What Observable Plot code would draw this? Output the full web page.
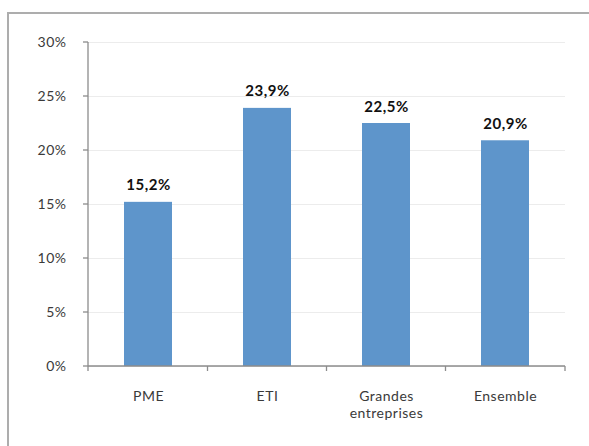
<!DOCTYPE html>
<html>
<head>
<meta charset="utf-8">
<script src="https://cdn.jsdelivr.net/npm/d3@7"></script>
<script src="https://cdn.jsdelivr.net/npm/@observablehq/plot@0.6"></script>
<style>
  html, body { margin: 0; padding: 0; background: #fff; }
  #wrap { position: relative; width: 589px; height: 446px; overflow: hidden; }
  #frame { position: absolute; left: 7px; top: 12px; width: 600px; height: 460px;
           border-top: 2px solid #adadad; border-left: 2px solid #adadad; box-sizing: border-box; }
  #chart { position: absolute; left: 0; top: 0; }
</style>
</head>
<body>
<div id="wrap"><div id="chart"></div><div id="frame"></div></div>
<script>
const categories = ["PME", "ETI", "Grandes\nentreprises", "Ensemble"];
const values = [15.2, 23.9, 22.5, 20.9];
const valueLabels = ["15,2%", "23,9%", "22,5%", "20,9%"];
const yTicks = [0, 5, 10, 15, 20, 25, 30];

const data = categories.map((c, i) => ({cat: c, value: values[i], label: valueLabels[i]}));
const font = "Lato, 'Open Sans', sans-serif";
const axisColor = "#8c8c8c";

function axesMark(index, scales, values, dims) {
  const x = scales.x, y = scales.y;
  const step = x.step(), bw = x.bandwidth();
  const gap = (step - bw) / 2;
  const left = dims.marginLeft, right = dims.width - dims.marginRight;
  const bottom = dims.height - dims.marginBottom;
  const bounds = [left];
  categories.forEach(c => bounds.push(x(c) + bw + gap));
  bounds[bounds.length - 1] = right;
  const g = d3.create("svg:g").attr("stroke", axisColor).attr("stroke-width", 1.3).attr("fill", "none");
  g.append("line").attr("x1", left).attr("x2", left).attr("y1", y(30)).attr("y2", bottom);
  g.append("line").attr("x1", left).attr("x2", right).attr("y1", bottom).attr("y2", bottom);
  bounds.forEach(b => g.append("line").attr("x1", b).attr("x2", b).attr("y1", bottom).attr("y2", bottom + 5));
  yTicks.forEach(t => g.append("line").attr("x1", left - 5).attr("x2", left).attr("y1", y(t)).attr("y2", y(t)));
  return g.node();
}

const chart = Plot.plot({
  width: 589,
  height: 446,
  marginLeft: 88,
  marginRight: 24,
  marginTop: 42,
  marginBottom: 80,
  style: {fontFamily: font, background: "transparent", letterSpacing: "0.5px"},
  x: {domain: categories, paddingInner: 0.6, paddingOuter: 0.3, axis: null},
  y: {domain: [0, 30], axis: null},
  marks: [
    Plot.gridY(yTicks, {stroke: "#ececec", strokeOpacity: 1, strokeWidth: 1}),
    Plot.barY(data, {x: "cat", y: "value", fill: "#5e95cb"}),
    Plot.axisY(yTicks, {label: null, tickSize: 0, tickPadding: 22, tickFormat: d => d + "%", fontSize: 14, fill: "#3a3a3a", stroke: null}),
    axesMark,
    Plot.text(data, {x: "cat", frameAnchor: "bottom", text: "cat", dy: 23, lineAnchor: "top", fontSize: 14, fill: "#3a3a3a", lineHeight: 1.2}),
    Plot.text(data, {x: "cat", y: "value", text: "label", dy: -12, lineAnchor: "bottom", fontSize: 15, fontWeight: "bold", fill: "#111"})
  ]
});
document.getElementById("chart").appendChild(chart);
</script>
</body>
</html>
